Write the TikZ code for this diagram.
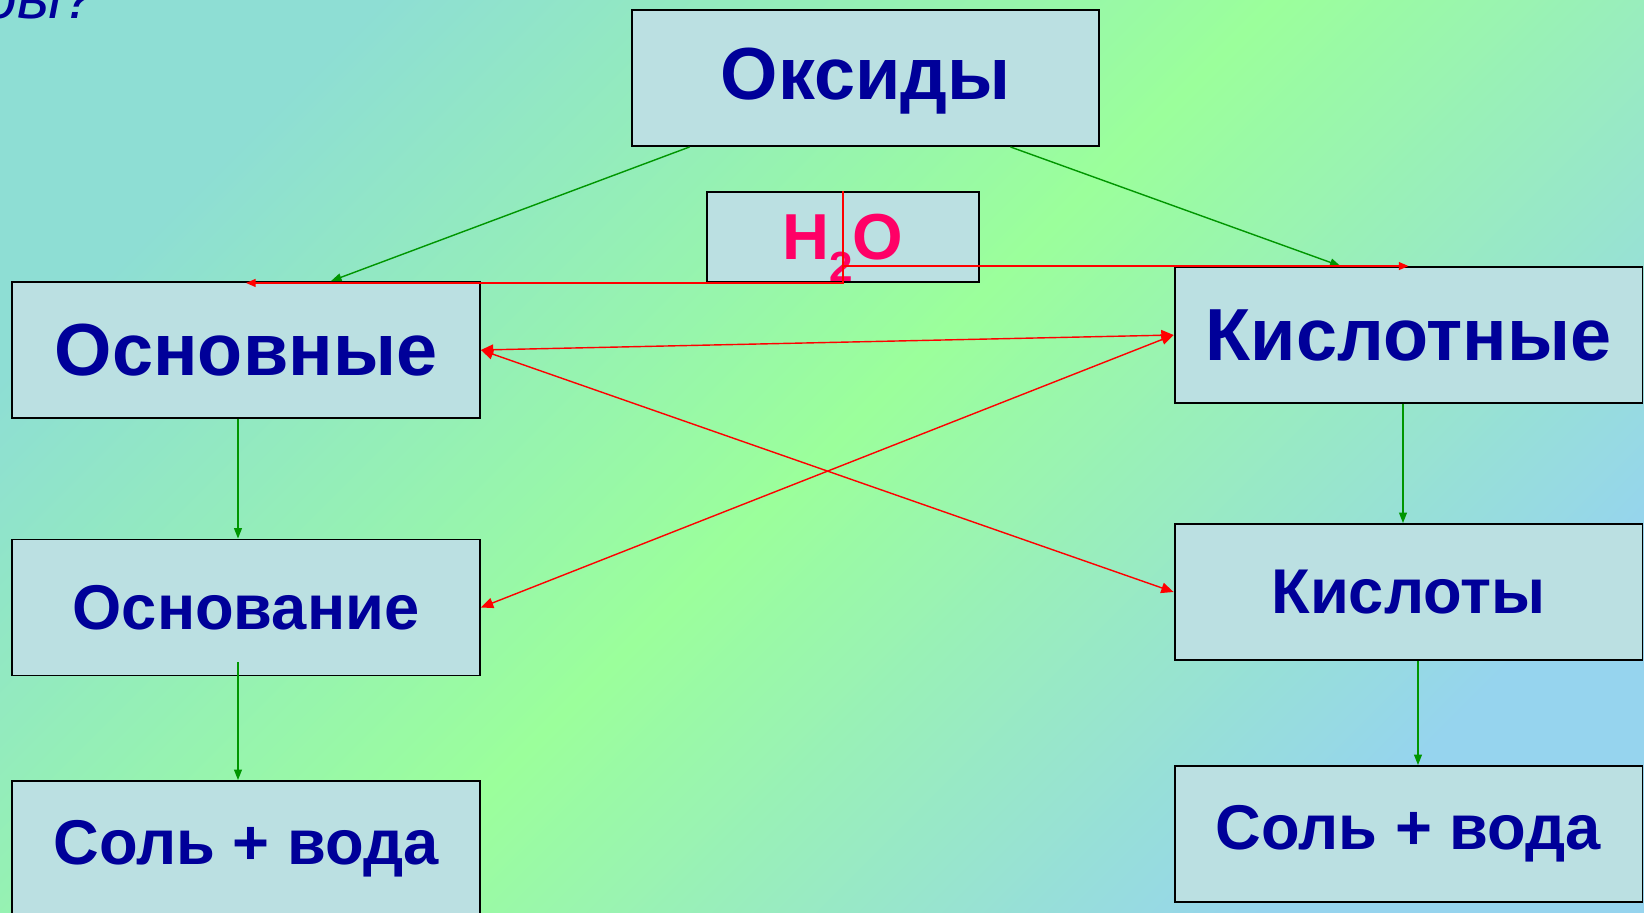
\documentclass[tikz,border=0pt]{standalone}
\usepackage{fontspec}
\setmainfont{Liberation Sans}
\usetikzlibrary{arrows.meta,calc}
\definecolor{inkblue}{RGB}{0,0,153}
\definecolor{boxfill}{RGB}{187,224,226}
\definecolor{arrgreen}{RGB}{0,150,0}
\definecolor{arrred}{RGB}{255,0,0}
\definecolor{waterpink}{RGB}{255,0,102}
\definecolor{bgteal}{RGB}{142,222,212}
\definecolor{bggreen}{RGB}{155,255,155}
\definecolor{bgblue}{RGB}{150,212,238}

\begin{document}
\begin{tikzpicture}[x=0.02cm,y=-0.02cm, >={Triangle[length=7pt,width=6pt]},
 box/.style={draw=black,line width=1.1pt,fill=boxfill,minimum width=9.36cm,
 minimum height=2.72cm,inner sep=0pt,text=inkblue,
 font=\bfseries\fontsize{42}{42}\selectfont},
 mid/.style={font=\bfseries\fontsize{36}{36}\selectfont},
 grn/.style={arrgreen,line width=0.8pt,-{Triangle[length=6pt,width=4.5pt]}},
 redline/.style={arrred,line width=0.8pt},
 water/.style={redline,-{Triangle[length=5.5pt,width=4.5pt]}}]
\useasboundingbox (0,0) rectangle (1644,913);
\clip (0,0) rectangle (1644,913);
\shade[top color=bgteal,bottom color=bgblue,middle color=bggreen,shading angle=45]
 (0,0) rectangle (1644,913);
\node[anchor=base east,text=inkblue,font=\itshape\fontsize{35}{35}\selectfont]
 (ask) at (103,18) {бы?};
% boxes
\node[box,text height=33pt] (oks) at (865.5,78) {Оксиды};
\node[box,minimum width=5.44cm,minimum height=1.8cm,text=waterpink,
 font=\bfseries\fontsize{37}{37}\selectfont] (h2o) at (843,237)
 {H\raisebox{-12.5pt}[0pt][0pt]{\fontsize{24}{24}\selectfont 2}O};
\node[box] (osn) at (246,350) {Основные};
\node[box] (kis) at (1408.5,335) {Кислотные};
\node[box,mid] (osnov) at (246,607.5) {Основание};
\node[box,mid] (kislo) at (1408.5,592) {Кислоты};
\node[box,mid] (solL) at (246,849) {Соль + вода};
\node[box,mid] (solR) at (1408.5,834) {Соль + вода};
% green
\draw[grn] ([xshift=1.18cm]oks.south west) -- ([xshift=1.7cm]osn.north);
\draw[grn] ([xshift=-1.8cm]oks.south east) -- ([xshift=-1.36cm]kis.north);
\draw[grn] ([xshift=-0.16cm]osn.south) -- ([xshift=-0.16cm]osnov.north);
\draw[grn] ([xshift=-0.16cm,yshift=0.28cm]osnov.south) -- ([xshift=-0.16cm]solL.north);
\draw[grn] ([xshift=-0.11cm]kis.south) -- ([xshift=-0.11cm]kislo.north);
\draw[grn] ([xshift=0.19cm]kislo.south) -- ([xshift=0.19cm]solR.north);
% red
\draw[water] (h2o.north) -- (h2o.south) -- (h2o.south -| osn.north);
\draw[water] (h2o.south |- kis.north) -- (kis.north);
\draw[redline,<->] (osn.east) -- (kis.west);
\draw[redline,<->] (osn.east) -- (kislo.west);
\draw[redline,<->] (osnov.east) -- (kis.west);
\end{tikzpicture}
\end{document}
